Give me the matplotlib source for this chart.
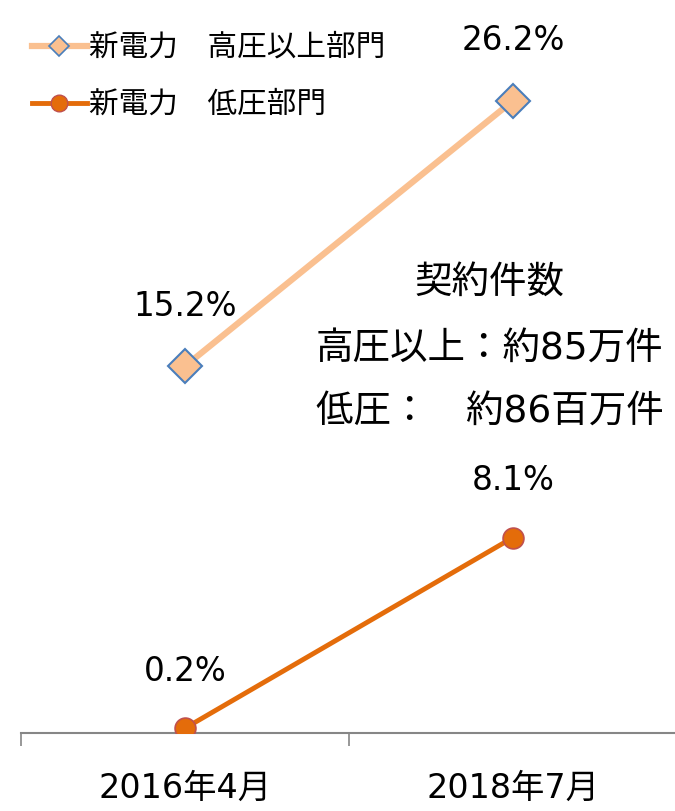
import matplotlib
matplotlib.use("Agg")
import matplotlib.pyplot as plt
from matplotlib.lines import Line2D

plt.rcParams['font.family'] = ['DejaVu Sans', 'Noto Sans CJK JP']

categories = ["2016年4月", "2018年7月"]
high_voltage = [15.2, 26.2]
low_voltage = [0.2, 8.1]
series_names = ["新電力　高圧以上部門", "新電力　低圧部門"]
note_title = "契約件数"
note_lines = ["高圧以上：約85万件", "低圧：　約86百万件"]

fig = plt.figure(figsize=(6.75, 8.11), dpi=100)
ax = fig.add_axes([21/675, 78/811, 656/675, 724/811])
x = list(range(len(categories)))

ax.plot(x, high_voltage, color="#FAC090", lw=4.5, marker="D", markersize=17,
        markerfacecolor="#FAC090", markeredgecolor="#4A7EBB", markeredgewidth=1.5,
        solid_capstyle="butt", zorder=3)
ax.plot(x, low_voltage, color="#E46C0A", lw=3.5, marker="o", markersize=15,
        markerfacecolor="#E46C0A", markeredgecolor="#C0504D", markeredgewidth=1.2,
        zorder=3)

for xi, v in zip(x, high_voltage):
    ax.annotate(f"{v:.1f}%", (xi, v), xytext=(0, 43), textcoords="offset points",
                ha="center", va="center", fontsize=23.5, color="#000000")
for xi, v in zip(x, low_voltage):
    ax.annotate(f"{v:.1f}%", (xi, v), xytext=(0, 41), textcoords="offset points",
                ha="center", va="center", fontsize=23.5, color="#000000")

ax.set_xlim(-0.5, 1.5)
ax.set_ylim(0, 30)
ax.set_xticks(x)
ax.set_xticklabels(categories, fontsize=24)
ax.tick_params(axis="x", which="major", length=0, pad=28)
ax.set_xticks([-0.5, 0.5, 1.5], minor=True)
ax.tick_params(axis="x", which="minor", length=9, width=1.2, color="#868686", direction="out")
ax.set_yticks([])
for s in ["top", "right", "left"]:
    ax.spines[s].set_visible(False)
ax.spines["bottom"].set_color("#868686")
ax.spines["bottom"].set_linewidth(1.5)

# Note text
fig.text(489/675, 1 - 283/811, note_title, ha="center", va="center", fontsize=27)
fig.text(316/675, 1 - 350/811, note_lines[0], ha="left", va="center", fontsize=27)
fig.text(316/675, 1 - 413/811, note_lines[1], ha="left", va="center", fontsize=27)

# Legend
handles = [
    Line2D([0], [0], color="#FAC090", lw=4.5, marker="D", markersize=10,
           markerfacecolor="#FAC090", markeredgecolor="#4A7EBB", markeredgewidth=1.2),
    Line2D([0], [0], color="#E46C0A", lw=3.5, marker="o", markersize=12,
           markerfacecolor="#E46C0A", markeredgecolor="#C0504D", markeredgewidth=1.0),
]
fig.legend(handles, series_names, loc="upper left", bbox_to_anchor=(32/675, 1 - 33/811),
           frameon=False, fontsize=21.3, handlelength=1.85, handletextpad=0.08,
           labelspacing=0.95, borderaxespad=0, borderpad=0)

fig.savefig("out.png", dpi=100)
